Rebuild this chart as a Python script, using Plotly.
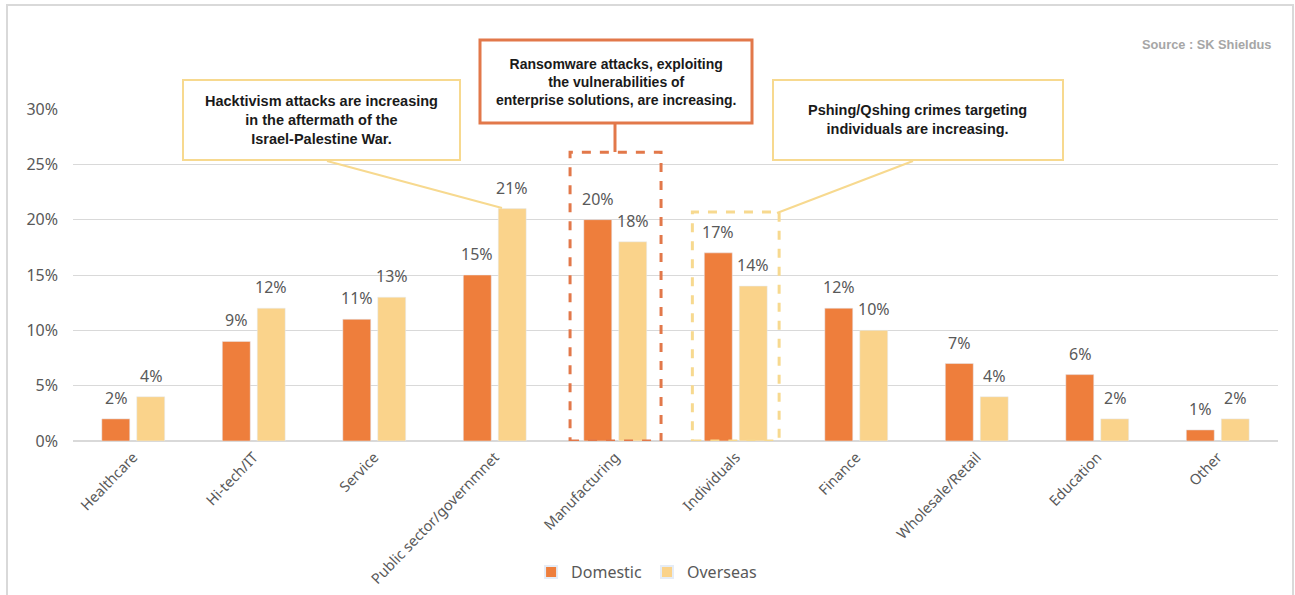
import plotly.graph_objects as go

categories = ["Healthcare", "Hi-tech/IT", "Service", "Public sector/governmnet", "Manufacturing",
              "Individuals", "Finance", "Wholesale/Retail", "Education", "Other"]
domestic = [0.02, 0.09, 0.11, 0.15, 0.20, 0.17, 0.12, 0.07, 0.06, 0.01]
overseas = [0.04, 0.12, 0.13, 0.21, 0.18, 0.14, 0.10, 0.04, 0.02, 0.02]
y_ticks = [0, 0.05, 0.10, 0.15, 0.20, 0.25, 0.30]

C_DOM = "#EE7E3C"
C_OVS = "#FAD38B"
C_BOX_ORANGE = "#E2784A"
C_BOX_YELLOW = "#F7D98F"
TXT = "#595959"
FONT = "Noto Sans"

fig = go.Figure()
fig.add_trace(go.Bar(name="Domestic", x=categories, y=domestic, marker_color=C_DOM))
fig.add_trace(go.Bar(name="Overseas", x=categories, y=overseas, marker_color=C_OVS))

# value labels above each bar (offset to each bar of the group)
for series, shift in ((domestic, -17.5), (overseas, 17.5)):
    for cat, v in zip(categories, series):
        fig.add_annotation(x=cat, y=v, xref="x", yref="y", text=f"{v:.0%}", showarrow=False,
                           xshift=shift, yshift=21, yanchor="middle", xanchor="center",
                           font=dict(size=16, color=TXT, family=FONT))

fig.update_layout(
    width=1295, height=595,
    margin=dict(l=73, r=17, t=109, b=154, autoexpand=False),
    paper_bgcolor="white", plot_bgcolor="white",
    barmode="group", bargap=0.42, bargroupgap=0.2,
    font=dict(family=FONT, color=TXT),
    legend=dict(orientation="h", x=0.476, xanchor="center", y=-0.395, yanchor="middle",
                font=dict(size=16, color=TXT, family=FONT), itemsizing="constant",
                traceorder="normal", itemwidth=30),
    showlegend=True,
)
fig.update_yaxes(range=[0, 0.30], tickvals=y_ticks, tickformat=".0%",
                 gridcolor="#D9D9D9", gridwidth=1, zeroline=True, zerolinecolor="#D9D9D9",
                 tickfont=dict(size=16, color=TXT, family=FONT), ticklabelstandoff=14,
                 showline=False, automargin=False)
fig.update_xaxes(tickangle=-46, tickfont=dict(size=14.5, color=TXT, family=FONT),
                 showline=False, showgrid=False, ticklabelstandoff=4, automargin=False)

def px2paper(px, py):
    return (px - 73) / 1205.0, (441 - py) / 332.0

shapes = []
# outer frame
x0, y0 = px2paper(7, 5)
x1, y1 = px2paper(1293, 600)
shapes.append(dict(type="rect", xref="paper", yref="paper", x0=x0, y0=y1, x1=x1, y1=y0,
                   line=dict(color="#D9D9D9", width=2), layer="below"))

# dashed highlight rects (data coords)
shapes.append(dict(type="rect", xref="x", yref="y", x0=3.625, x1=4.38, y0=0.0, y1=0.261,
                   line=dict(color=C_BOX_ORANGE, width=3, dash="dash"), layer="above"))
shapes.append(dict(type="rect", xref="x", yref="y", x0=4.64, x1=5.36, y0=0.0, y1=0.207,
                   line=dict(color=C_BOX_YELLOW, width=3, dash="dash"), layer="above"))

# connector lines
def line(p, q, color, width=2):
    a = px2paper(*p); b = px2paper(*q)
    return dict(type="line", xref="paper", yref="paper", x0=a[0], y0=a[1], x1=b[0], y1=b[1],
                line=dict(color=color, width=width), layer="above")

shapes.append(line((327, 161), (502, 208), C_BOX_YELLOW, 2))
shapes.append(line((615, 123), (615, 152), C_BOX_ORANGE, 3))
shapes.append(line((913, 161), (777, 213), C_BOX_YELLOW, 2))

# callout boxes
def box(l, t, r, b, color, width):
    a = px2paper(l, t); c = px2paper(r, b)
    return dict(type="rect", xref="paper", yref="paper", x0=a[0], y0=c[1], x1=c[0], y1=a[1],
                fillcolor="white", line=dict(color=color, width=width), layer="above")

shapes.append(box(183, 80, 460, 160, C_BOX_YELLOW, 2))
shapes.append(box(480, 40, 752, 123, C_BOX_ORANGE, 3))
shapes.append(box(773, 80, 1063, 160, C_BOX_YELLOW, 2))
fig.update_layout(shapes=shapes)

def note(px, py, text, size=14.5, color="#1a1a1a", anchor="center"):
    x, y = px2paper(px, py)
    fig.add_annotation(x=x, y=y, xref="paper", yref="paper", text=text, showarrow=False,
                       xanchor=anchor, yanchor="middle", align="center",
                       font=dict(size=size, color=color, family="Liberation Sans"))

note(321, 120, "<b>Hacktivism attacks are increasing<br>in the aftermath of the<br>Israel-Palestine War.</b>")
note(616, 82, "<b>Ransomware attacks, exploiting<br>the vulnerabilities of<br>enterprise solutions, are increasing.</b>", size=14)
note(918, 120, "<b>Pshing/Qshing crimes targeting<br>individuals are increasing.</b>")
note(1273, 44, "<b>Source : SK Shieldus</b>", size=12.8, color="#A6A6A6", anchor="right")

fig.write_html("out.html")
